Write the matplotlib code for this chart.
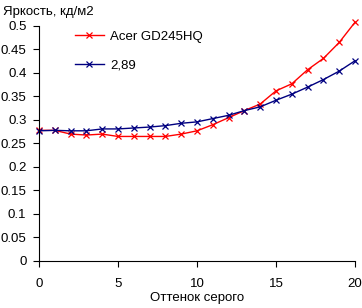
import matplotlib

matplotlib.use("Agg")
import matplotlib.pyplot as plt

shades = list(range(21))
acer = [0.278, 0.278, 0.270, 0.268, 0.270, 0.265, 0.265, 0.265, 0.265, 0.270,
        0.277, 0.290, 0.305, 0.320, 0.334, 0.362, 0.377, 0.407, 0.431, 0.465, 0.508]
gamma = [0.277, 0.278, 0.277, 0.277, 0.281, 0.281, 0.283, 0.285, 0.288, 0.293,
         0.296, 0.303, 0.310, 0.320, 0.328, 0.342, 0.355, 0.370, 0.386, 0.404, 0.426]
series_labels = ["Acer GD245HQ", "2,89"]
y_ticks = [0, 0.05, 0.1, 0.15, 0.2, 0.25, 0.3, 0.35, 0.4, 0.45, 0.5]
x_ticks = [0, 5, 10, 15, 20]

plt.rcParams["font.family"] = ["Liberation Sans", "DejaVu Sans"]
plt.rcParams["font.size"] = 9.5

fig = plt.figure(figsize=(3.62, 3.08), dpi=100)
ax = fig.add_axes([0.1077, 0.1526, 0.873, 0.763])

ax.plot(shades, acer, color="#ff0000", linewidth=1.0, marker="x", markersize=4,
        markeredgewidth=0.9, label=series_labels[0], clip_on=False)
ax.plot(shades, gamma, color="#000080", linewidth=1.0, marker="x", markersize=4,
        markeredgewidth=0.9, label=series_labels[1], clip_on=False)

ax.set_xlim(0, 20)
ax.set_ylim(0, 0.5)
ax.set_xticks(x_ticks)
ax.set_yticks(y_ticks)
ax.set_yticklabels([f"{v:g}" for v in y_ticks])
ax.spines["top"].set_visible(False)
ax.spines["right"].set_visible(False)
ax.tick_params(direction="out", length=4, width=0.8, pad=5)
ax.tick_params(axis="x", pad=8)

ax.set_xlabel("Оттенок серого", labelpad=2)
fig.text(0.008, 0.962, "Яркость, кд/м2", ha="left", va="center")

ax.legend(loc="upper left", bbox_to_anchor=(0.075, 1.03), frameon=False,
          handlelength=2.2, handletextpad=0.5, labelspacing=1.2)

fig.savefig("out.png", dpi=100)
